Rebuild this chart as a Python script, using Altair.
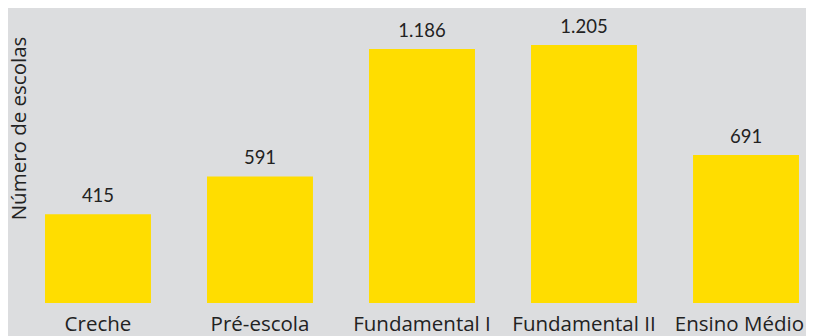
import altair as alt
import pandas as pd

categorias = ["Creche", "Pré-escola", "Fundamental I", "Fundamental II", "Ensino Médio"]
escolas = [415, 591, 1186, 1205, 691]
rotulos = ["415", "591", "1.186", "1.205", "691"]

df = pd.DataFrame({"cat": categorias, "n": escolas, "rot": rotulos})

FONT = "Lato"
FONT2 = "Open Sans"
ultimo = "datum.value == 'Ensino Médio'"
x = alt.X("cat:N", sort=categorias, title=None,
          scale=alt.Scale(paddingInner=0.346, paddingOuter=0.0556, align=0.611),
          axis=alt.Axis(labelAngle=0, labelFontSize=20.5, labelFont=FONT2, labelColor="#222222",
                        labelPadding=11, labelBaseline="top", domain=False, ticks=False,
                        labelFlush=False,
                        labelAlign={"condition": {"test": ultimo, "value": "right"}, "value": "center"},
                        labelOffset={"condition": {"test": ultimo, "value": 58}, "value": 0}))
y = alt.Y("n:Q", title="Número de escolas",
          scale=alt.Scale(domain=[0, 1378], nice=False),
          axis=alt.Axis(labels=False, ticks=False, domain=False, grid=False,
                        titleFont=FONT2, titleFontSize=20.5, titleFontWeight="normal",
                        titleColor="#222222", titleX=-25, titleY=120, titleAngle=270,
                        titleAlign="center", titleBaseline="top"))

bars = alt.Chart(df).mark_bar(color="#FFDD00").encode(x=x, y=y)
text = alt.Chart(df).mark_text(dy=-12, baseline="alphabetic", font=FONT, fontSize=18.5,
                               color="#222222").encode(x=alt.X("cat:N", sort=categorias),
                                                       y="n:Q", text="rot:N")

chart = (bars + text).properties(
    width=772, height=295,
    background="#DCDDDF",
    autosize=alt.AutoSizeParams(type="none"),
    padding={"left": 26, "top": 0, "right": 0, "bottom": 33},
).configure_view(stroke=None)

chart.save("out.html", embed_options={"renderer": "svg", "actions": False})
